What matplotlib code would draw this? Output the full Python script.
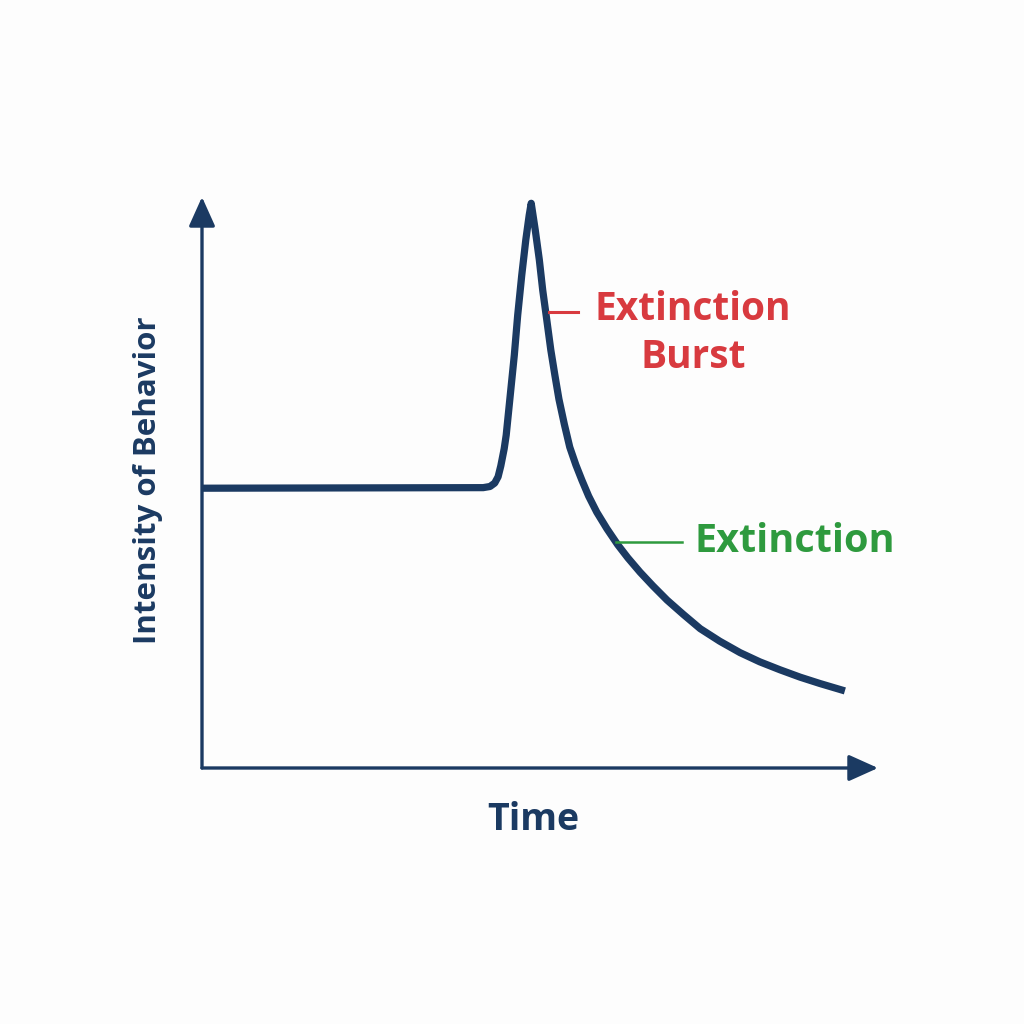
import matplotlib
matplotlib.use("Agg")
import matplotlib.pyplot as plt

# behaviour curve (time, intensity on 0..100 scales)
time = [0, 41.6, 42.6, 43.3, 43.8, 44.2, 44.7, 45.0, 45.6, 46.2, 46.7, 47.3,
        47.9, 48.4, 48.7,
        49.3, 49.9, 50.4, 51.0, 51.6, 52.2, 52.8, 53.6, 54.4, 55.3, 56.2,
        57.2, 58.4, 59.9, 61.5, 63.0, 64.8, 66.7, 68.8, 71.2, 73.7, 76.6,
        79.6, 82.5, 85.5, 88.5, 91.4, 95.1]
intensity = [49.0, 49.1, 49.3, 49.9, 51.0, 52.9, 55.9, 58.3, 65.3, 72.3, 79.3, 86.3,
             92.5, 96.8, 98.9,
             94.2, 89.0, 83.7, 78.5, 73.2, 68.8, 64.6, 60.2, 56.2, 53.1, 50.4,
             47.6, 44.8, 41.9, 39.1, 36.8, 34.3, 31.9, 29.4, 26.9, 24.4, 22.2,
             20.2, 18.6, 17.2, 15.9, 14.8, 13.5]

burst_tick_t = [51.3, 55.6]
burst_tick_i = [79.9, 79.9]
ext_tick_t = [61.2, 71.0]
ext_tick_i = [39.6, 39.6]

NAVY = "#1b3a62"
RED = "#d83a3f"
GREEN = "#2e9a3e"
FONT = ["Open Sans", "DejaVu Sans"]

fig = plt.figure(figsize=(10.24, 10.24), dpi=100, facecolor="#fdfdfd")
ax = fig.add_axes([202 / 1024, 256 / 1024, 676 / 1024, 571 / 1024])
ax.set_xlim(0, 100)
ax.set_ylim(0, 100)
ax.axis("off")

# axes with arrow heads
arrow_kw = dict(arrowstyle="-|>,head_length=0.4,head_width=0.18", mutation_scale=45,
                lw=2.4, color=NAVY, shrinkA=0, shrinkB=0)
ax.annotate("", xy=(100, 0), xytext=(0, 0), arrowprops=arrow_kw, annotation_clip=False)
ax.annotate("", xy=(0, 100), xytext=(0, 0), arrowprops=arrow_kw, annotation_clip=False)

ax.plot(time, intensity, color=NAVY, lw=5.2, solid_capstyle="butt", solid_joinstyle="round",
        clip_on=False)

ax.plot(burst_tick_t, burst_tick_i, color=RED, lw=2.2)
ax.plot(ext_tick_t, ext_tick_i, color=GREEN, lw=1.8)

ax.text(72.6, 76.1, "Extinction\nBurst", color=RED, fontsize=28, fontweight="bold",
        family=FONT, ha="center", va="center", linespacing=1.27)
ax.text(72.9, 39.6, "Extinction", color=GREEN, fontsize=28.5, fontweight="bold",
        family=FONT, ha="left", va="center")

ax.text(49.0, -9.1, "Time", color=NAVY, fontsize=27, fontweight="bold",
        family=FONT, ha="center", va="center")
ax.text(-8.0, 50.4, "Intensity of Behavior", color=NAVY, fontsize=22.5, fontweight="bold",
        family=FONT, ha="center", va="center", rotation=90)

fig.savefig("out.png", dpi=100, facecolor=fig.get_facecolor())
